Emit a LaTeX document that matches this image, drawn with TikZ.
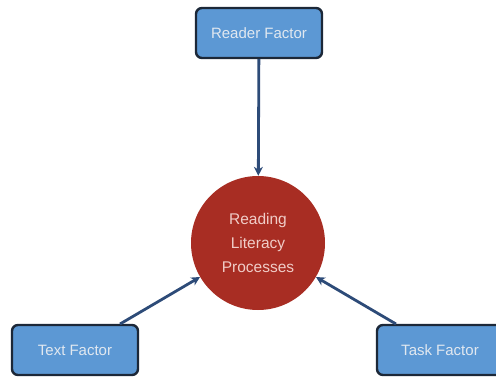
\documentclass[tikz,border=0pt]{standalone}
\usepackage{fontspec}
\setmainfont{Liberation Sans}
\usetikzlibrary{arrows.meta}
\definecolor{boxfill}{RGB}{92,152,212}
\definecolor{boxline}{RGB}{28,40,56}
\definecolor{boxtext}{RGB}{225,232,240}
\definecolor{coreFill}{RGB}{168,45,35}
\definecolor{coreText}{RGB}{240,205,200}
\definecolor{linkcol}{RGB}{45,75,120}
\tikzset{
  factor/.style={draw=boxline, line width=2.4pt, fill=boxfill, rounded corners=6pt,
    minimum width=126pt, minimum height=50pt, text=boxtext, font=\fontsize{15}{18}\selectfont},
  core/.style={circle, fill=coreFill, minimum size=134pt, text=coreText, align=center,
    font=\fontsize{15.5}{24}\selectfont, inner sep=0pt},
  link/.style={draw=linkcol, line width=2.8pt, -{Stealth[length=9pt,width=9pt]}}
}
\begin{document}
\begin{tikzpicture}[x=1pt,y=-1pt]
  \useasboundingbox (0,0) rectangle (496,378);
  \node[core] (proc) at (258,243) {Reading\\Literacy\\Processes};
  \node[factor] (reader) at (259,33) {Reader Factor};
  \node[factor] (text) at (75,350) {Text Factor};
  \node[factor] (task) at (440,350) {Task Factor};
  \coordinate (textout) at (120,324);
  \coordinate (taskout) at (396,324);
  \draw[link] (reader) -- (proc);
  \draw[link] (textout) -- (proc);
  \draw[link] (taskout) -- (proc);
\end{tikzpicture}
\end{document}
